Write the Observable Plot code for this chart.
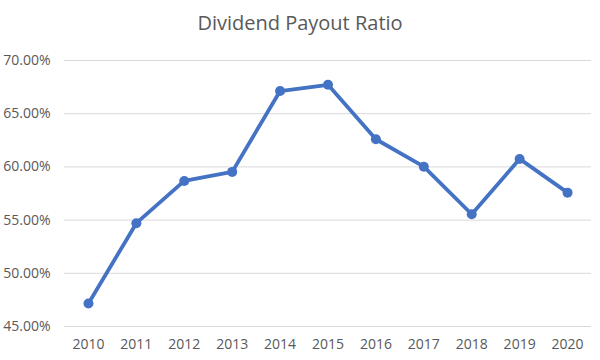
<!DOCTYPE html>
<html>
<head>
<meta charset="utf-8">
<script src="https://cdn.jsdelivr.net/npm/d3@7"></script>
<script src="https://cdn.jsdelivr.net/npm/@observablehq/plot@0.6"></script>
<style>
  body { margin: 0; background: #fff; font-family: "Open Sans", sans-serif; }
  #wrap { width: 600px; height: 360px; overflow: hidden; }
  #title { height: 45px; line-height: 45px; text-align: center; font-size: 20px; color: #595959; }
</style>
</head>
<body>
<div id="wrap">
  <div id="title">Dividend Payout Ratio</div>
  <div id="chart"></div>
</div>
<script>
const years = ["2010","2011","2012","2013","2014","2015","2016","2017","2018","2019","2020"];
const payoutRatio = [0.4716, 0.5471, 0.5868, 0.5953, 0.6713, 0.6772, 0.6260, 0.6002, 0.5555, 0.6075, 0.5758];
const yTicks = [0.45, 0.50, 0.55, 0.60, 0.65, 0.70];

const data = years.map((y, i) => ({year: y, value: payoutRatio[i]}));

const chart = Plot.plot({
  width: 600,
  height: 315,
  marginTop: 15,
  marginBottom: 34,
  marginLeft: 64,
  marginRight: 9,
  style: {fontFamily: "Open Sans, sans-serif", fontSize: "14px", color: "#595959", background: "#fff"},
  x: {type: "point", domain: years, padding: 0.5, round: false, label: null},
  y: {domain: [0.45, 0.70], label: null},
  marks: [
    Plot.gridY(yTicks, {stroke: "#d9d9d9", strokeOpacity: 1, strokeWidth: 1}),
    Plot.axisY(yTicks, {tickSize: 0, tickPadding: 14, tickFormat: d3.format(".2%"), fill: "#595959", fontSize: 14}),
    Plot.axisX(years, {tickSize: 0, tickPadding: 13, fill: "#595959", fontSize: 14}),
    Plot.line(data, {x: "year", y: "value", stroke: "#4472C4", strokeWidth: 3.8}),
    Plot.dot(data, {x: "year", y: "value", fill: "#4472C4", r: 5})
  ]
});
document.getElementById("chart").appendChild(chart);
</script>
</body>
</html>
